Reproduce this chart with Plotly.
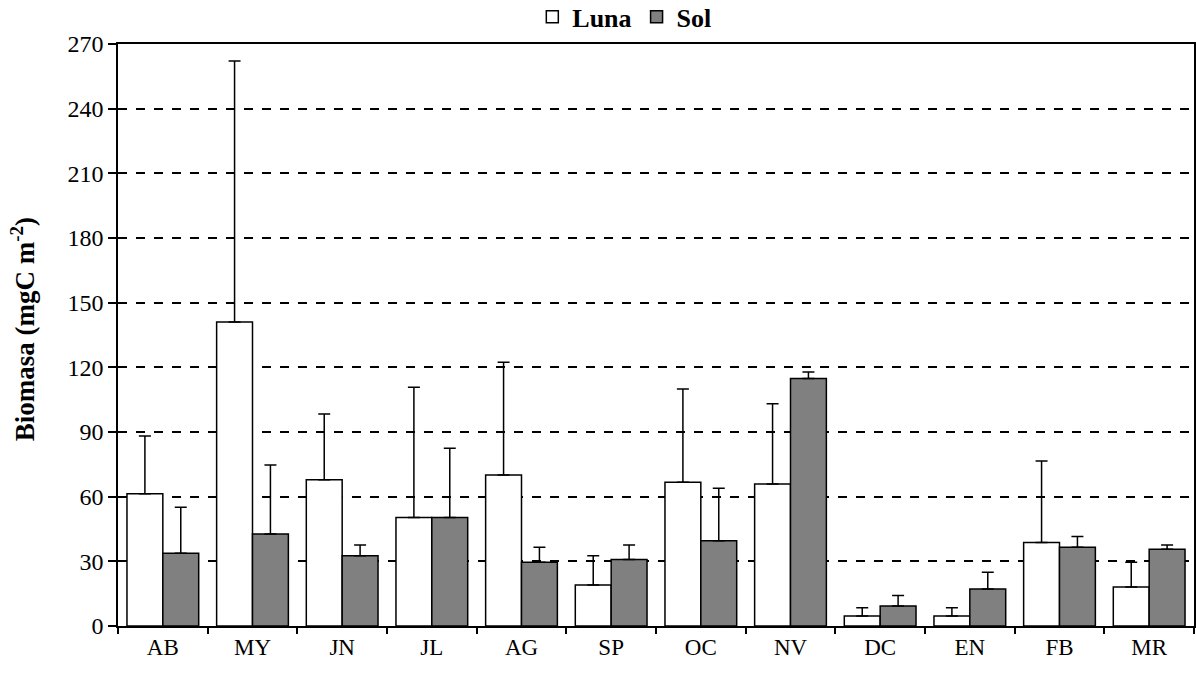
import plotly.graph_objects as go

# Monthly biomass, two sites, with upper standard deviation
months = ["AB", "MY", "JN", "JL", "AG", "SP", "OC", "NV", "DC", "EN", "FB", "MR"]
luna = [61.3, 141.0, 67.9, 50.3, 70.0, 19.0, 66.7, 65.9, 4.6, 4.6, 38.7, 18.1]
luna_sd = [26.9, 121.1, 30.4, 60.5, 52.4, 13.6, 43.2, 37.2, 3.9, 3.9, 37.9, 11.5]
sol = [33.7, 42.7, 32.6, 50.3, 29.6, 30.8, 39.6, 114.8, 9.3, 17.2, 36.5, 35.6]
sol_sd = [21.4, 32.0, 5.0, 32.2, 6.9, 6.8, 24.3, 3.0, 4.8, 7.7, 5.0, 2.0]

y_ticks = [0, 30, 60, 90, 120, 150, 180, 210, 240, 270]

serif = "Liberation Serif"
outline = dict(color="black", width=1.5)


def err(vals):
    return dict(type="data", symmetric=False, array=vals, arrayminus=[0] * len(vals),
                color="black", thickness=1.5, width=6)


fig = go.Figure()
fig.add_trace(go.Bar(name="Luna", x=months, y=luna, error_y=err(luna_sd),
                     marker=dict(color="white", line=outline)))
fig.add_trace(go.Bar(name="Sol", x=months, y=sol, error_y=err(sol_sd),
                     marker=dict(color="#808080", line=outline)))

fig.update_layout(
    width=1196, height=674,
    margin=dict(l=118, r=2, t=44, b=48, autoexpand=False),
    paper_bgcolor="white", plot_bgcolor="white",
    barmode="group", bargap=0.2, bargroupgap=0,
    font=dict(family=serif, color="black", size=23),
    showlegend=True,
    legend=dict(orientation="h", xref="container", yref="container",
                x=0.522, xanchor="center", y=0.975, yanchor="middle",
                font=dict(family=serif, size=26, weight="bold"),
                itemwidth=30, tracegroupgap=0, bgcolor="rgba(0,0,0,0)"),
    annotations=[dict(text="Biomasa (mgC m<sup>-2</sup>)", textangle=-90,
                      xref="paper", yref="paper", x=0, y=0.51, xshift=-95,
                      xanchor="center", yanchor="middle", showarrow=False,
                      font=dict(family=serif, size=27, weight="bold"))],
)

fig.update_xaxes(
    showline=True, linecolor="black", linewidth=1.5, mirror=True,
    ticks="outside", tickson="boundaries", ticklen=6, tickcolor="black", tickwidth=1.5,
    showgrid=False, tickfont=dict(family=serif, size=23),
)
fig.update_yaxes(
    range=[0, 270], tickvals=y_ticks,
    showline=True, linecolor="black", linewidth=1.5, mirror=True,
    ticks="outside", ticklen=8, tickcolor="black", tickwidth=1.5,
    showgrid=True, gridcolor="black", gridwidth=1.5, griddash="dash",
    zeroline=False, tickfont=dict(family=serif, size=24),
)

fig.write_html("out.html")
